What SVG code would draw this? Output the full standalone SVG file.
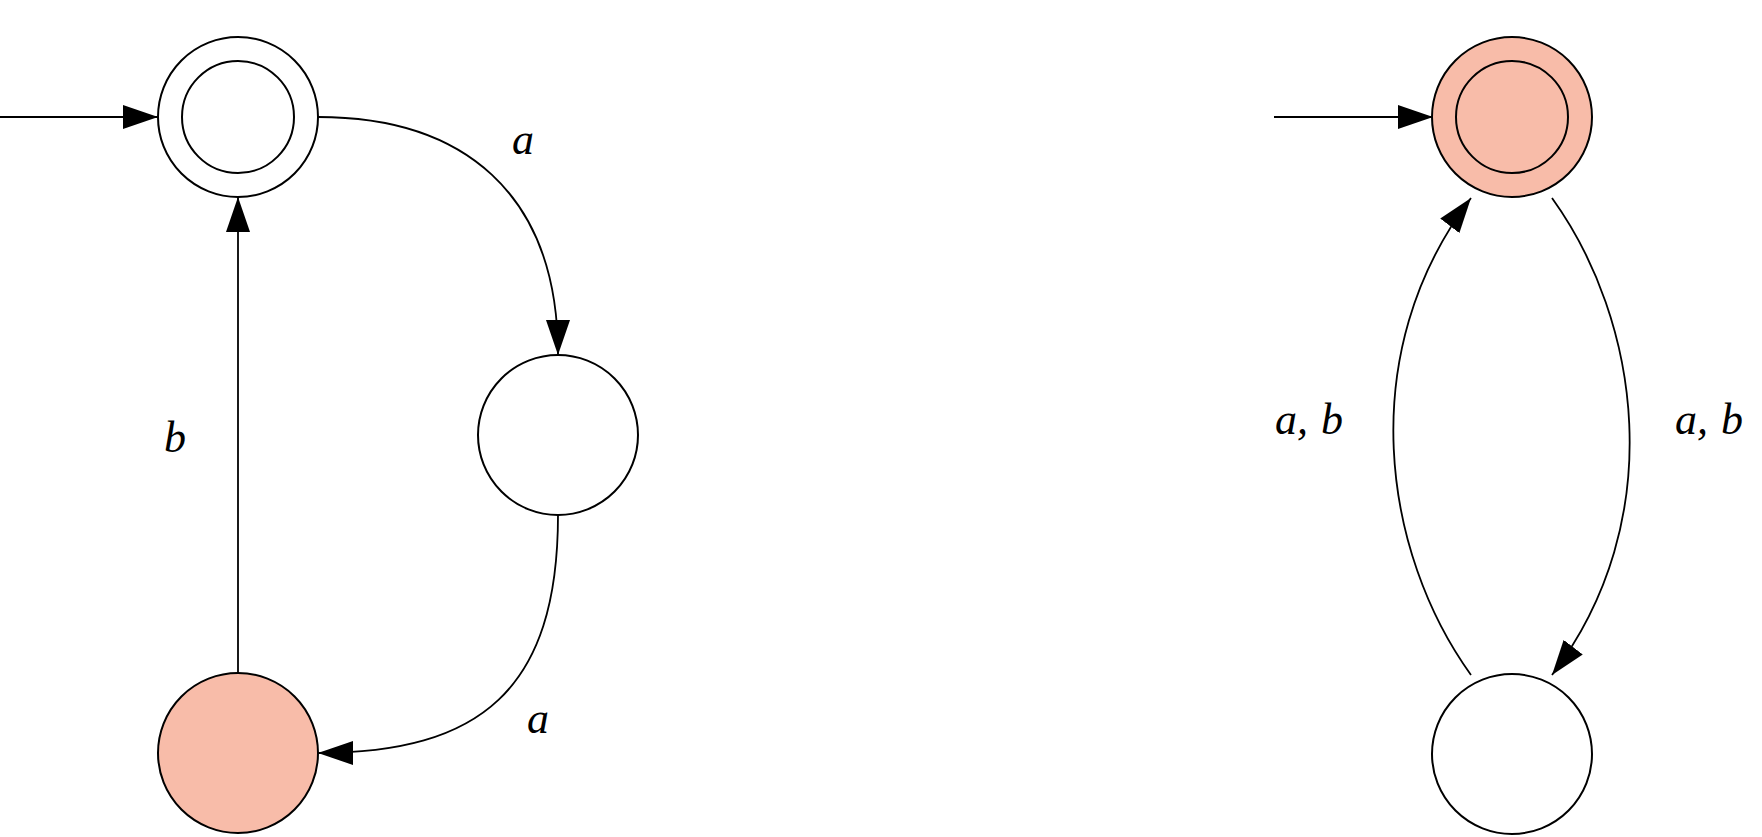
<svg xmlns="http://www.w3.org/2000/svg" width="1762" height="837" viewBox="0 0 1762 837">
<style>
.st{fill:#ffffff;stroke:#000;stroke-width:2}
.acc{fill:#F8BCA9;stroke:#000;stroke-width:2}
.edge{fill:none;stroke:#000;stroke-width:1.8}
.lbl{font-family:"Liberation Serif","DejaVu Serif",serif;font-style:italic;font-size:44px;fill:#000}
</style>
<defs>
<marker id="arr" markerUnits="userSpaceOnUse" markerWidth="36" markerHeight="24" refX="35" refY="12" orient="auto">
<path d="M0,0 L35,12 L0,24 z" fill="#000"/>
</marker>
</defs>
<rect width="1762" height="837" fill="#ffffff"/>
<g id="connectors">
<path class="edge" d="M0,117 L158,117" marker-end="url(#arr)"/>
<path class="edge" d="M318,117 C462,117 558,192 558,355" marker-end="url(#arr)"/>
<path class="edge" d="M558,515 C558,690 480,753 318,753" marker-end="url(#arr)"/>
<path class="edge" d="M238,673 L238,197" marker-end="url(#arr)"/>
<path class="edge" d="M1274,117 L1433,117" marker-end="url(#arr)"/>
<path class="edge" d="M1552,198 C1640,320 1670,520 1552,675" marker-end="url(#arr)"/>
<path class="edge" d="M1471,675 C1383,553 1353,353 1471,198" marker-end="url(#arr)"/>
<text class="lbl" x="512" y="154">a</text>
<text class="lbl" x="527" y="733">a</text>
<text class="lbl" x="164" y="452">b</text>
<text class="lbl" y="434"><tspan x="1275">a,</tspan><tspan x="1321">b</tspan></text>
<text class="lbl" y="434"><tspan x="1675">a,</tspan><tspan x="1721">b</tspan></text>
</g>
<g id="q0">
<circle class="st" cx="238" cy="117" r="80"/>
<circle class="st" cx="238" cy="117" r="56"/>
</g>
<g id="q1">
<circle class="st" cx="558" cy="435" r="80"/>
</g>
<g id="q2">
<circle class="acc" cx="238" cy="753" r="80"/>
</g>
<g id="p0">
<circle class="acc" cx="1512" cy="117" r="80"/>
<circle class="acc" cx="1512" cy="117" r="56"/>
</g>
<g id="p1">
<circle class="st" cx="1512" cy="754" r="80"/>
</g>
</svg>
